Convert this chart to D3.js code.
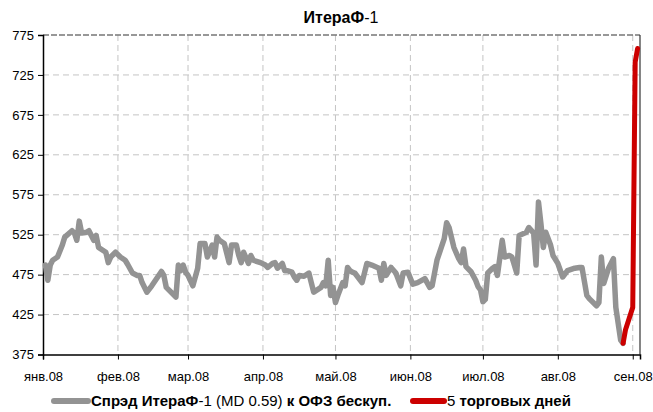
<!DOCTYPE html>
<html>
<head>
<meta charset="utf-8">
<script src="https://cdn.jsdelivr.net/npm/d3@7"></script>
<style>
  body { margin: 0; background: #fff; }
  text { font-family: "Liberation Sans Narrow", "Arial Narrow", "Liberation Sans", Arial, sans-serif; fill: #000; }
</style>
</head>
<body>
<div id="chart"></div>
<script>
// Step 1: data
//= ================================
var spreadDates = [
  "2008-01-02","2008-01-03","2008-01-04","2008-01-05","2008-01-07","2008-01-09","2008-01-10","2008-01-13","2008-01-14","2008-01-15",
  "2008-01-16","2008-01-17","2008-01-19","2008-01-20","2008-01-21","2008-01-22","2008-01-23","2008-01-24","2008-01-27","2008-01-28",
  "2008-01-29","2008-01-31","2008-02-02","2008-02-04","2008-02-05","2008-02-07","2008-02-09","2008-02-10","2008-02-11","2008-02-13",
  "2008-02-15","2008-02-19","2008-02-20","2008-02-21","2008-02-25","2008-02-26","2008-02-27","2008-02-28","2008-02-29","2008-03-01",
  "2008-03-03","2008-03-05","2008-03-06","2008-03-08","2008-03-09","2008-03-11","2008-03-12","2008-03-13","2008-03-14","2008-03-16",
  "2008-03-18","2008-03-19","2008-03-21","2008-03-22","2008-03-23","2008-03-24","2008-03-26","2008-03-27","2008-03-28","2008-03-31",
  "2008-04-02","2008-04-03","2008-04-05","2008-04-06","2008-04-07","2008-04-09","2008-04-10","2008-04-11","2008-04-13","2008-04-14",
  "2008-04-15","2008-04-16","2008-04-18","2008-04-20","2008-04-21","2008-04-22","2008-04-25","2008-04-26","2008-04-27","2008-04-28",
  "2008-04-29","2008-04-30","2008-05-01","2008-05-02","2008-05-04","2008-05-05","2008-05-06","2008-05-07","2008-05-08","2008-05-09",
  "2008-05-12","2008-05-14","2008-05-16","2008-05-19","2008-05-20","2008-05-21","2008-05-22","2008-05-24","2008-05-26","2008-05-28",
  "2008-05-29","2008-05-31","2008-06-02","2008-06-04","2008-06-07","2008-06-09","2008-06-10","2008-06-12","2008-06-15","2008-06-16",
  "2008-06-17","2008-06-19","2008-06-21","2008-06-22","2008-06-23","2008-06-24","2008-06-26","2008-06-28","2008-06-29","2008-06-30",
  "2008-07-01","2008-07-02","2008-07-03","2008-07-05","2008-07-06","2008-07-07","2008-07-09","2008-07-10","2008-07-12","2008-07-13",
  "2008-07-15","2008-07-16","2008-07-19","2008-07-20","2008-07-22","2008-07-23","2008-07-24","2008-07-25","2008-07-26","2008-07-27",
  "2008-07-29","2008-07-30","2008-08-01","2008-08-03","2008-08-05","2008-08-08","2008-08-10","2008-08-11","2008-08-13","2008-08-14",
  "2008-08-17","2008-08-18","2008-08-19","2008-08-20","2008-08-22","2008-08-24","2008-08-25","2008-08-27","2008-08-28"
];
var spreadValues = [
  487,468,487,493,497,512,522,530,527,518,
  542,527,528,530,524,518,524,509,503,490,
  497,503,497,493,488,477,474,474,465,453,
  461,479,474,459,447,487,480,487,478,474,
  461,483,514,514,497,512,497,522,518,514,
  490,512,512,499,490,503,489,499,493,490,
  487,484,489,490,483,489,480,480,478,472,
  468,474,473,477,465,453,459,465,461,493,
  449,459,440,449,465,461,484,480,478,477,
  465,489,487,483,468,489,474,484,477,461,
  477,478,463,465,470,459,461,493,520,540,
  534,509,495,490,507,485,479,468,460,456,
  441,444,477,483,485,474,518,497,499,497,
  477,524,528,534,527,487,566,539,509,528,
  512,499,489,472,480,483,484,484,449,445,
  436,440,497,464,483,495,434,393,389
];

// last 5 trading days
var lastDates = ["2008-08-28","2008-08-29","2008-09-01","2008-09-02","2008-09-03"];
var lastValues = [389, 406, 434, 741, 758];

var yTicks = [375, 425, 475, 525, 575, 625, 675, 725, 775];
var monthTicks = ["2008-01-01","2008-02-01","2008-03-01","2008-04-01","2008-05-01","2008-06-01","2008-07-01","2008-08-01","2008-09-01"];
var monthLabels = ["янв.08","фев.08","мар.08","апр.08","май.08","июн.08","июл.08","авг.08","сен.08"];

// Step 2: set up the chart
//= ================================
var svgWidth = 653;
var svgHeight = 412;

var plot = { left: 43, right: 640, top: 35, bottom: 354.5 };

var parseDate = d3.timeParse("%Y-%m-%d");

var spreadData = spreadDates.map(function(d, i) {
  return { date: parseDate(d), value: spreadValues[i] };
});
var lastData = lastDates.map(function(d, i) {
  return { date: parseDate(d), value: lastValues[i] };
});
var monthData = monthTicks.map(parseDate);

var svg = d3.select("#chart")
  .append("svg")
  .attr("width", svgWidth)
  .attr("height", svgHeight);

// Step 3: scales
//= ================================
var xTimeScale = d3.scaleTime()
  .domain([parseDate("2008-01-01"), parseDate("2008-09-04")])
  .range([plot.left, plot.right]);

var yLinearScale = d3.scaleLinear()
  .domain([375, 775])
  .range([plot.bottom, plot.top]);

// Step 4: grid lines
//= ================================
svg.append("g")
  .selectAll("line")
  .data(yTicks.slice(1, -1))
  .enter()
  .append("line")
  .attr("x1", plot.left)
  .attr("x2", plot.right)
  .attr("y1", d => yLinearScale(d))
  .attr("y2", d => yLinearScale(d))
  .attr("stroke", "#c4c4c4")
  .attr("stroke-width", 1)
  .attr("stroke-dasharray", "6,4");

svg.append("g")
  .selectAll("line")
  .data(monthData.slice(1))
  .enter()
  .append("line")
  .attr("x1", d => xTimeScale(d))
  .attr("x2", d => xTimeScale(d))
  .attr("y1", plot.top)
  .attr("y2", plot.bottom)
  .attr("stroke", "#c4c4c4")
  .attr("stroke-width", 1)
  .attr("stroke-dasharray", "6,4");

// top edge (dashed, darker) and right edge
svg.append("line")
  .attr("x1", plot.left).attr("x2", plot.right)
  .attr("y1", plot.top).attr("y2", plot.top)
  .attr("stroke", "#777")
  .attr("stroke-width", 1.5)
  .attr("stroke-dasharray", "6,2");

svg.append("line")
  .attr("x1", plot.right).attr("x2", plot.right)
  .attr("y1", plot.top).attr("y2", plot.bottom)
  .attr("stroke", "#333")
  .attr("stroke-width", 1.2);

// Step 5: axes
//= ================================
var leftAxis = d3.axisLeft(yLinearScale)
  .tickValues(yTicks)
  .tickSize(5)
  .tickPadding(4);

var bottomAxis = d3.axisBottom(xTimeScale)
  .tickValues(monthData)
  .tickSize(5)
  .tickPadding(12)
  .tickFormat((d, i) => monthLabels[i]);

var yAxis = svg.append("g")
  .attr("transform", `translate(${plot.left}, 0)`)
  .call(leftAxis);

var xAxis = svg.append("g")
  .attr("transform", `translate(0, ${plot.bottom})`)
  .call(bottomAxis);

[yAxis, xAxis].forEach(function(ax) {
  ax.select(".domain").attr("stroke", "#000").attr("stroke-width", 1.5);
  ax.selectAll(".tick line").attr("stroke", "#000");
  ax.selectAll(".tick text")
    .style("font-family", "\"Liberation Sans Narrow\", \"Arial Narrow\", \"Liberation Sans\", Arial, sans-serif")
    .style("font-size", "13px")
    .attr("fill", "#000");
});

// Step 6: lines
//= ================================
var line = d3.line()
  .x(d => xTimeScale(d.date))
  .y(d => yLinearScale(d.value));

svg.append("path")
  .datum(spreadData)
  .attr("d", line)
  .attr("fill", "none")
  .attr("stroke", "#939393")
  .attr("stroke-width", 5.5)
  .attr("stroke-linejoin", "round")
  .attr("stroke-linecap", "round");

svg.append("path")
  .datum(lastData)
  .attr("d", line)
  .attr("fill", "none")
  .attr("stroke", "#cc0000")
  .attr("stroke-width", 5)
  .attr("stroke-linejoin", "round")
  .attr("stroke-linecap", "round");

// Step 7: title and legend
//= ================================
var title = svg.append("text")
  .attr("x", 341)
  .attr("y", 23)
  .attr("text-anchor", "middle")
  .style("font-size", "16px");
title.append("tspan").attr("font-weight", "bold").text("ИтераФ");
title.append("tspan").text("-1");

var legend = svg.append("g").attr("transform", "translate(0, 401)");

legend.append("line")
  .attr("x1", 54).attr("x2", 88)
  .attr("y1", 0).attr("y2", 0)
  .attr("stroke", "#939393")
  .attr("stroke-width", 6)
  .attr("stroke-linecap", "round");

var leg1 = legend.append("text")
  .attr("x", 91)
  .attr("y", 5)
  .style("font-size", "15px");
leg1.append("tspan").attr("font-weight", "bold").text("Спрэд ИтераФ");
leg1.append("tspan").text("-1 (MD 0.59) ");
leg1.append("tspan").attr("font-weight", "bold").text("к ОФЗ бескуп.");

legend.append("line")
  .attr("x1", 413).attr("x2", 444)
  .attr("y1", 0).attr("y2", 0)
  .attr("stroke", "#cc0000")
  .attr("stroke-width", 6)
  .attr("stroke-linecap", "round");

var leg2 = legend.append("text")
  .attr("x", 447)
  .attr("y", 5)
  .style("font-size", "15px");
leg2.append("tspan").text("5 ");
leg2.append("tspan").attr("font-weight", "bold").text("торговых дней");
</script>
</body>
</html>
